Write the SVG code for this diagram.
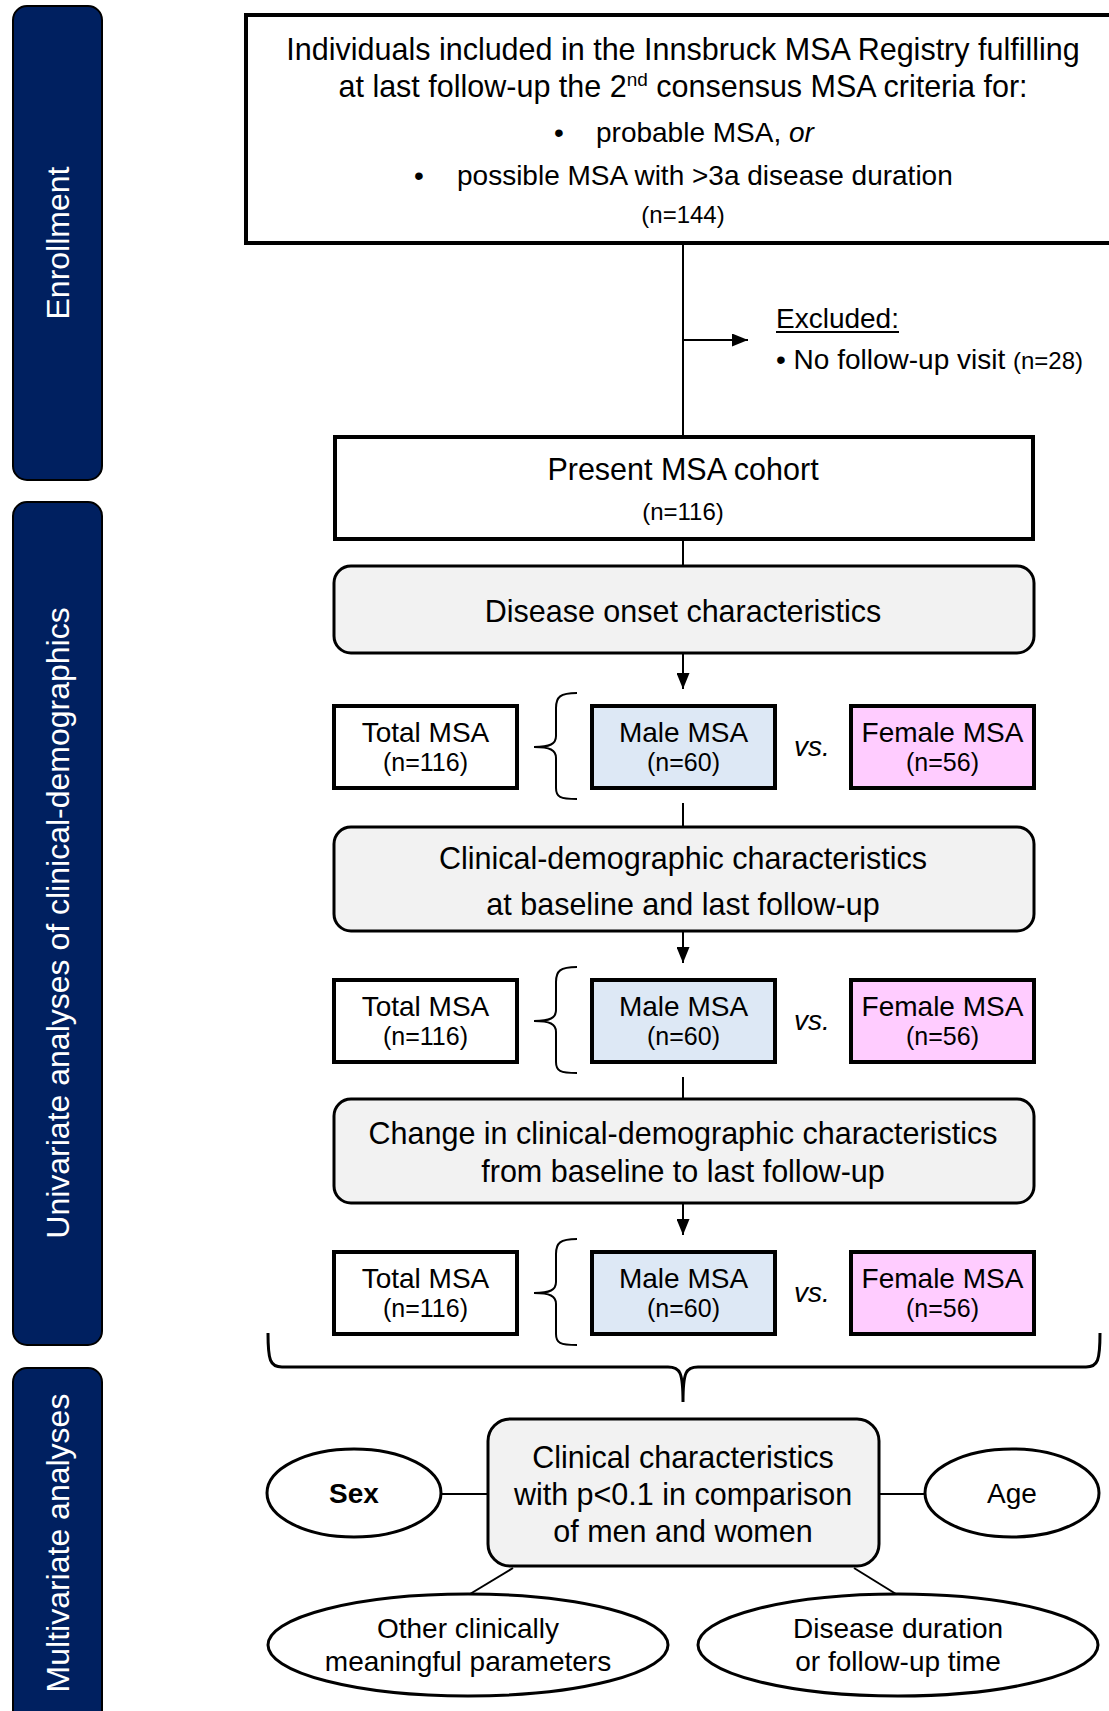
<svg xmlns="http://www.w3.org/2000/svg" width="1109" height="1711" viewBox="0 0 1109 1711">
<defs>
<style>
text{font-family:"Liberation Sans",Arial,sans-serif;fill:#000}
.t{font-size:30.5px;text-anchor:middle}
.m{font-size:28px;text-anchor:middle}
.s{font-size:25px;text-anchor:middle}
.tab{fill:#002060;stroke:#000;stroke-width:2}
.tabt{font-size:32px;fill:#fff;text-anchor:middle}
.box{fill:#fff;stroke:#000;stroke-width:4}
.male{fill:#dde8f5;stroke:#000;stroke-width:4}
.fem{fill:#ffccff;stroke:#000;stroke-width:4}
.grey{fill:#f2f2f2;stroke:#000;stroke-width:3}
.ell{fill:#fff;stroke:#000;stroke-width:3}
.ln{fill:none;stroke:#000;stroke-width:2}
.br{fill:none;stroke:#000;stroke-width:2}
</style>
<marker id="ah" viewBox="0 0 16 13" refX="16" refY="6.5" markerWidth="16" markerHeight="13" markerUnits="userSpaceOnUse" orient="auto"><path d="M0,0 L16,6.5 L0,13 Z" fill="#000"/></marker>
</defs>

<g id="tab-enrollment"><rect class="tab" x="13" y="6" width="89" height="474" rx="14"/><text class="tabt" transform="translate(69,243) rotate(-90)">Enrollment</text></g>
<g id="tab-univariate"><rect class="tab" x="13" y="502" width="89" height="843" rx="14"/><text class="tabt" transform="translate(69,923) rotate(-90)">Univariate analyses of clinical-demographics</text></g>
<g id="tab-multivariate"><rect class="tab" x="13" y="1368" width="89" height="360" rx="14"/><text class="tabt" transform="translate(69,1543) rotate(-90)">Multivariate analyses</text></g>

<g id="connectors">
<line class="ln" x1="683" y1="243" x2="683" y2="436"/>
<line class="ln" x1="683" y1="340" x2="748" y2="340" marker-end="url(#ah)"/>
<line class="ln" x1="683" y1="540" x2="683" y2="565"/>
<line class="ln" x1="683" y1="654" x2="683" y2="689" marker-end="url(#ah)"/>
<line class="ln" x1="683" y1="803" x2="683" y2="826"/>
<line class="ln" x1="683" y1="932" x2="683" y2="963" marker-end="url(#ah)"/>
<line class="ln" x1="683" y1="1077" x2="683" y2="1098"/>
<line class="ln" x1="683" y1="1204" x2="683" y2="1235" marker-end="url(#ah)"/>
<path class="br" d="M577,693 C560,693 556,697 556,708 L556,736 C556,744 550,747 534,747 C550,747 556,750 556,758 L556,788 C556,797 560,799 577,799"/>
<path class="br" d="M577,967 C560,967 556,971 556,982 L556,1010 C556,1018 550,1021 534,1021 C550,1021 556,1024 556,1032 L556,1062 C556,1071 560,1073 577,1073"/>
<path class="br" d="M577,1239 C560,1239 556,1243 556,1254 L556,1282 C556,1290 550,1293 534,1293 C550,1293 556,1296 556,1304 L556,1334 C556,1343 560,1345 577,1345"/>
<path class="ln" style="stroke-width:3" d="M268,1333 C268,1360 270,1367 282,1367 L668,1367 C680,1367 683,1372 683,1402 C683,1372 686,1367 698,1367 L1086,1367 C1098,1367 1100,1360 1100,1333"/>
<line class="ln" x1="442" y1="1494" x2="487" y2="1494"/>
<line class="ln" x1="880" y1="1494" x2="924" y2="1494"/>
<line class="ln" x1="513" y1="1568" x2="470" y2="1594"/>
<line class="ln" x1="854" y1="1568" x2="896" y2="1594"/>
</g>

<g id="n-registry">
<rect class="box" x="246" y="15" width="900" height="228"/>
<text class="t" x="683" y="60">Individuals included in the Innsbruck MSA Registry fulfilling</text>
<text class="t" x="683" y="97">at last follow-up the 2<tspan font-size="19" dy="-11">nd</tspan><tspan dy="11"> consensus MSA criteria for:</tspan></text>
<text x="559" y="142" style="font-size:28px;text-anchor:middle">•</text>
<text x="596" y="142" style="font-size:28px">probable MSA, <tspan font-style="italic">or</tspan></text>
<text x="419" y="185" style="font-size:28px;text-anchor:middle">•</text>
<text x="457" y="185" style="font-size:28px">possible MSA with &gt;3a disease duration</text>
<text class="s" x="683" y="223" style="font-size:24px">(n=144)</text>
</g>

<g id="n-excluded">
<text x="776" y="328" style="font-size:28px">Excluded:</text>
<line x1="776" y1="332" x2="899" y2="332" stroke="#000" stroke-width="2"/>
<text x="776" y="369" style="font-size:28px">• No follow-up visit <tspan font-size="24">(n=28)</tspan></text>
</g>

<g id="n-cohort">
<rect class="box" x="335" y="437" width="698" height="102"/>
<text class="t" x="683" y="480">Present MSA cohort</text>
<text class="s" x="683" y="520" style="font-size:24px">(n=116)</text>
</g>

<g id="n-onset">
<rect class="grey" x="334" y="566" width="700" height="87" rx="17"/>
<text class="t" x="683" y="622">Disease onset characteristics</text>
</g>

<g id="n-row1">
<rect class="box" x="334" y="706" width="183" height="82"/>
<text class="m" x="425.5" y="742">Total MSA</text><text class="s" x="425.5" y="771">(n=116)</text>
<rect class="male" x="592" y="706" width="183" height="82"/>
<text class="m" x="683.5" y="742">Male MSA</text><text class="s" x="683.5" y="771">(n=60)</text>
<text x="812" y="756" style="font-size:28px;font-style:italic;text-anchor:middle">vs.</text>
<rect class="fem" x="851" y="706" width="183" height="82"/>
<text class="m" x="942.5" y="742">Female MSA</text><text class="s" x="942.5" y="771">(n=56)</text>
</g>

<g id="n-clinical">
<rect class="grey" x="334" y="827" width="700" height="104" rx="17"/>
<text class="t" x="683" y="869">Clinical-demographic characteristics</text>
<text class="t" x="683" y="915">at baseline and last follow-up</text>
</g>

<g id="n-row2">
<rect class="box" x="334" y="980" width="183" height="82"/>
<text class="m" x="425.5" y="1016">Total MSA</text><text class="s" x="425.5" y="1045">(n=116)</text>
<rect class="male" x="592" y="980" width="183" height="82"/>
<text class="m" x="683.5" y="1016">Male MSA</text><text class="s" x="683.5" y="1045">(n=60)</text>
<text x="812" y="1030" style="font-size:28px;font-style:italic;text-anchor:middle">vs.</text>
<rect class="fem" x="851" y="980" width="183" height="82"/>
<text class="m" x="942.5" y="1016">Female MSA</text><text class="s" x="942.5" y="1045">(n=56)</text>
</g>

<g id="n-change">
<rect class="grey" x="334" y="1099" width="700" height="104" rx="17"/>
<text class="t" x="683" y="1144">Change in clinical-demographic characteristics</text>
<text class="t" x="683" y="1182">from baseline to last follow-up</text>
</g>

<g id="n-row3">
<rect class="box" x="334" y="1252" width="183" height="82"/>
<text class="m" x="425.5" y="1288">Total MSA</text><text class="s" x="425.5" y="1317">(n=116)</text>
<rect class="male" x="592" y="1252" width="183" height="82"/>
<text class="m" x="683.5" y="1288">Male MSA</text><text class="s" x="683.5" y="1317">(n=60)</text>
<text x="812" y="1302" style="font-size:28px;font-style:italic;text-anchor:middle">vs.</text>
<rect class="fem" x="851" y="1252" width="183" height="82"/>
<text class="m" x="942.5" y="1288">Female MSA</text><text class="s" x="942.5" y="1317">(n=56)</text>
</g>

<g id="n-center">
<rect class="grey" x="488" y="1419" width="391" height="147" rx="22"/>
<text class="t" x="683" y="1468">Clinical characteristics</text>
<text class="t" x="683" y="1505">with p&lt;0.1 in comparison</text>
<text class="t" x="683" y="1542">of men and women</text>
</g>

<g id="n-sex"><ellipse class="ell" cx="354" cy="1493" rx="87" ry="44"/><text class="m" x="354" y="1503" font-weight="bold">Sex</text></g>
<g id="n-age"><ellipse class="ell" cx="1012" cy="1493" rx="87" ry="44"/><text class="m" x="1012" y="1503">Age</text></g>
<g id="n-other"><ellipse class="ell" cx="468" cy="1645" rx="200" ry="51"/><text class="m" x="468" y="1638">Other clinically</text><text class="m" x="468" y="1671">meaningful parameters</text></g>
<g id="n-duration"><ellipse class="ell" cx="898" cy="1645" rx="200" ry="51"/><text class="m" x="898" y="1638">Disease duration</text><text class="m" x="898" y="1671">or follow-up time</text></g>
</svg>
